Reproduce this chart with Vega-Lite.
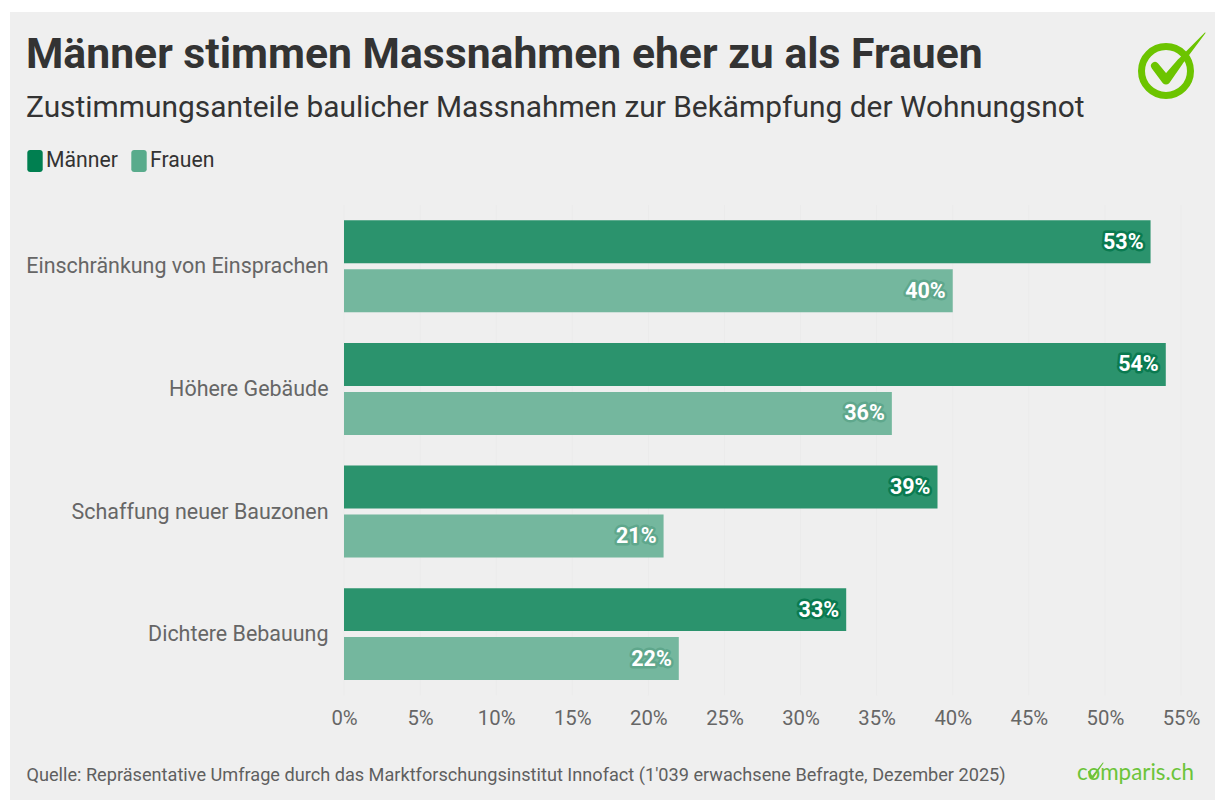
{
"$schema":"https://vega.github.io/schema/vega-lite/v6.json",
"width":1205,"height":788,"autosize":"none",
"padding":{"left":10,"top":12,"right":0,"bottom":0},
"background":"#ffffff",
"title":{"text":"Männer stimmen Massnahmen eher zu als Frauen","subtitle":"Zustimmungsanteile baulicher Massnahmen zur Bekämpfung der Wohnungsnot","anchor":"start","frame":"group","offset":-112,"dx":16,"dy":-1,"font":"Roboto","fontSize":42.7,"fontWeight":700,"color":"#333333","subtitleFont":"Roboto","subtitleFontSize":29.9,"subtitleColor":"#333333","subtitlePadding":16},
"config":{"view":{"stroke":null,"fill":"#efefef"},"font":"Roboto"},
"resolve":{"scale":{"x":"independent","y":"independent"}},
"layer":[
{"data":{"values":[{"tick":0,"oben":0,"unten":1},{"tick":5,"oben":0,"unten":1},{"tick":10,"oben":0,"unten":1},{"tick":15,"oben":0,"unten":1},{"tick":20,"oben":0,"unten":1},{"tick":25,"oben":0,"unten":1},{"tick":30,"oben":0,"unten":1},{"tick":35,"oben":0,"unten":1},{"tick":40,"oben":0,"unten":1},{"tick":45,"oben":0,"unten":1},{"tick":50,"oben":0,"unten":1},{"tick":55,"oben":0,"unten":1}]},
"mark":{"type":"rule","color":"#ebebeb","strokeWidth":1},
"encoding":{
"x":{"field":"tick","type":"quantitative","axis":null,"scale":{"domain":[0,55],"range":[334,1171],"nice":false}},
"y":{"field":"oben","type":"quantitative","axis":null,"scale":{"domain":[0,1],"range":[193,683.4],"nice":false}},
"y2":{"field":"unten"}}},
{"data":{"values":[
{"kategorie":"Einschränkung von Einsprachen","geschlecht":"Männer","anteil":53},
{"kategorie":"Einschränkung von Einsprachen","geschlecht":"Frauen","anteil":40},
{"kategorie":"Höhere Gebäude","geschlecht":"Männer","anteil":54},
{"kategorie":"Höhere Gebäude","geschlecht":"Frauen","anteil":36},
{"kategorie":"Schaffung neuer Bauzonen","geschlecht":"Männer","anteil":39},
{"kategorie":"Schaffung neuer Bauzonen","geschlecht":"Frauen","anteil":21},
{"kategorie":"Dichtere Bebauung","geschlecht":"Männer","anteil":33},
{"kategorie":"Dichtere Bebauung","geschlecht":"Frauen","anteil":22}
]},
"transform":[{"calculate":"datum.anteil + '%'","as":"label"}],
"encoding":{
"y":{"field":"kategorie","type":"nominal","sort":null,"title":null,
"scale":{"range":[193,683.4],"paddingInner":0.25,"paddingOuter":0.125},
"axis":{"offset":-334,"domain":false,"ticks":false,"labelFont":"Roboto","labelFontSize":21.45,"labelColor":"#666666","labelPadding":16,"labelLimit":400,"labelOffset":1}},
"yOffset":{"field":"geschlecht","type":"nominal","sort":["Männer","Frauen"],"scale":{"paddingInner":0.122,"paddingOuter":0}},
"x":{"field":"anteil","type":"quantitative",
"scale":{"domain":[0,55],"range":[334,1171],"nice":false},
"axis":{"values":[0,5,10,15,20,25,30,35,40,45,50,55],"labelExpr":"datum.value + '%'","offset":-105,"domain":false,"ticks":false,"grid":false,"labelFont":"Roboto","labelFontSize":20.3,"labelColor":"#666666","labelPadding":13,"labelFlush":false,
"title":"Quelle: Repräsentative Umfrage durch das Marktforschungsinstitut Innofact (1'039 erwachsene Befragte, Dezember 2025)","titleFont":"Roboto","titleFontSize":18.15,"titleFontWeight":400,"titleColor":"#5f5f5f","titleX":16,"titleY":80,"titleAlign":"left","titleAnchor":"start","titleBaseline":"middle"}}
},
"layer":[
{"mark":{"type":"bar","opacity":0.82},
"encoding":{"color":{"field":"geschlecht","type":"nominal","sort":["Männer","Frauen"],"title":null,
"scale":{"domain":["Männer","Frauen"],"range":["#007f50","#59ab8c"]},
"legend":{"orient":"none","legendX":14,"legendY":138,"direction":"horizontal","symbolType":"M-0.45,-1H0.45A0.25,0.25,0,0,1,0.7,-0.75V0.75A0.25,0.25,0,0,1,0.45,1H-0.45A0.25,0.25,0,0,1,-0.7,0.75V-0.75A0.25,0.25,0,0,1,-0.45,-1Z","symbolSize":484,"symbolOpacity":1,"symbolStrokeWidth":0,"labelFont":"Roboto","labelFontSize":21.2,"labelColor":"#333333","labelOffset":0,"columnPadding":10}}}},
{"mark":{"type":"text","align":"right","baseline":"middle","dx":-7,"dy":1,"font":"Roboto","fontSize":21.5,"fontWeight":700,"strokeWidth":5,"strokeJoin":"round"},
"encoding":{"text":{"field":"label"},"fill":{"field":"geschlecht","type":"nominal","legend":null,"scale":{"domain":["Männer","Frauen"],"range":["#0a7a50","#5fa78c"]}},"stroke":{"field":"geschlecht","type":"nominal","legend":null,"scale":{"domain":["Männer","Frauen"],"range":["#0a7a50","#5fa78c"]}}}},
{"mark":{"type":"text","align":"right","baseline":"middle","dx":-7,"dy":1,"font":"Roboto","fontSize":21.5,"fontWeight":700,"fill":"#ffffff"},"encoding":{"text":{"field":"label"}}}
]},
{"data":{"values":[
{"part":"ring","px":36,"py":39},
{"part":"haken","px":25,"py":34,"w":8,"o":1},
{"part":"haken","px":36,"py":48,"w":9,"o":2},
{"part":"haken","px":50,"py":30,"w":6.5,"o":3},
{"part":"haken","px":75,"py":1,"w":1,"o":4},
{"part":"wort","px":-53,"py":741,"t":"comparis.ch"},
{"part":"kleinerhaken","px":-41,"py":740,"w":2,"o":1},
{"part":"kleinerhaken","px":-38,"py":746,"w":2.5,"o":2},
{"part":"kleinerhaken","px":-27,"py":731,"w":1,"o":3}
]},
"encoding":{
"x":{"field":"px","type":"quantitative","axis":null,"scale":{"domain":[0,80],"range":[1120,1200],"nice":false,"zero":false}},
"y":{"field":"py","type":"quantitative","axis":null,"scale":{"domain":[0,70],"range":[20,90],"nice":false,"zero":false}}},
"layer":[
{"transform":[{"filter":"datum.part==='ring'"}],"mark":{"type":"point","shape":"circle","filled":false,"stroke":"#6cc400","strokeWidth":7,"size":2401,"opacity":1}},
{"transform":[{"filter":"datum.part==='haken'"}],"mark":{"type":"trail","color":"#6cc400"},"encoding":{"order":{"field":"o","type":"quantitative"},"size":{"field":"w","type":"quantitative","legend":null,"scale":null}}},
{"transform":[{"filter":"datum.part==='wort'"}],"mark":{"type":"text","align":"left","baseline":"middle","font":"Lato","fontSize":22.4,"color":"#6cc43a"},"encoding":{"text":{"field":"t"}}},
{"transform":[{"filter":"datum.part==='kleinerhaken'"}],"mark":{"type":"trail","color":"#6cc43a"},"encoding":{"order":{"field":"o","type":"quantitative"},"size":{"field":"w","type":"quantitative","legend":null,"scale":null}}}
]}
]
}
